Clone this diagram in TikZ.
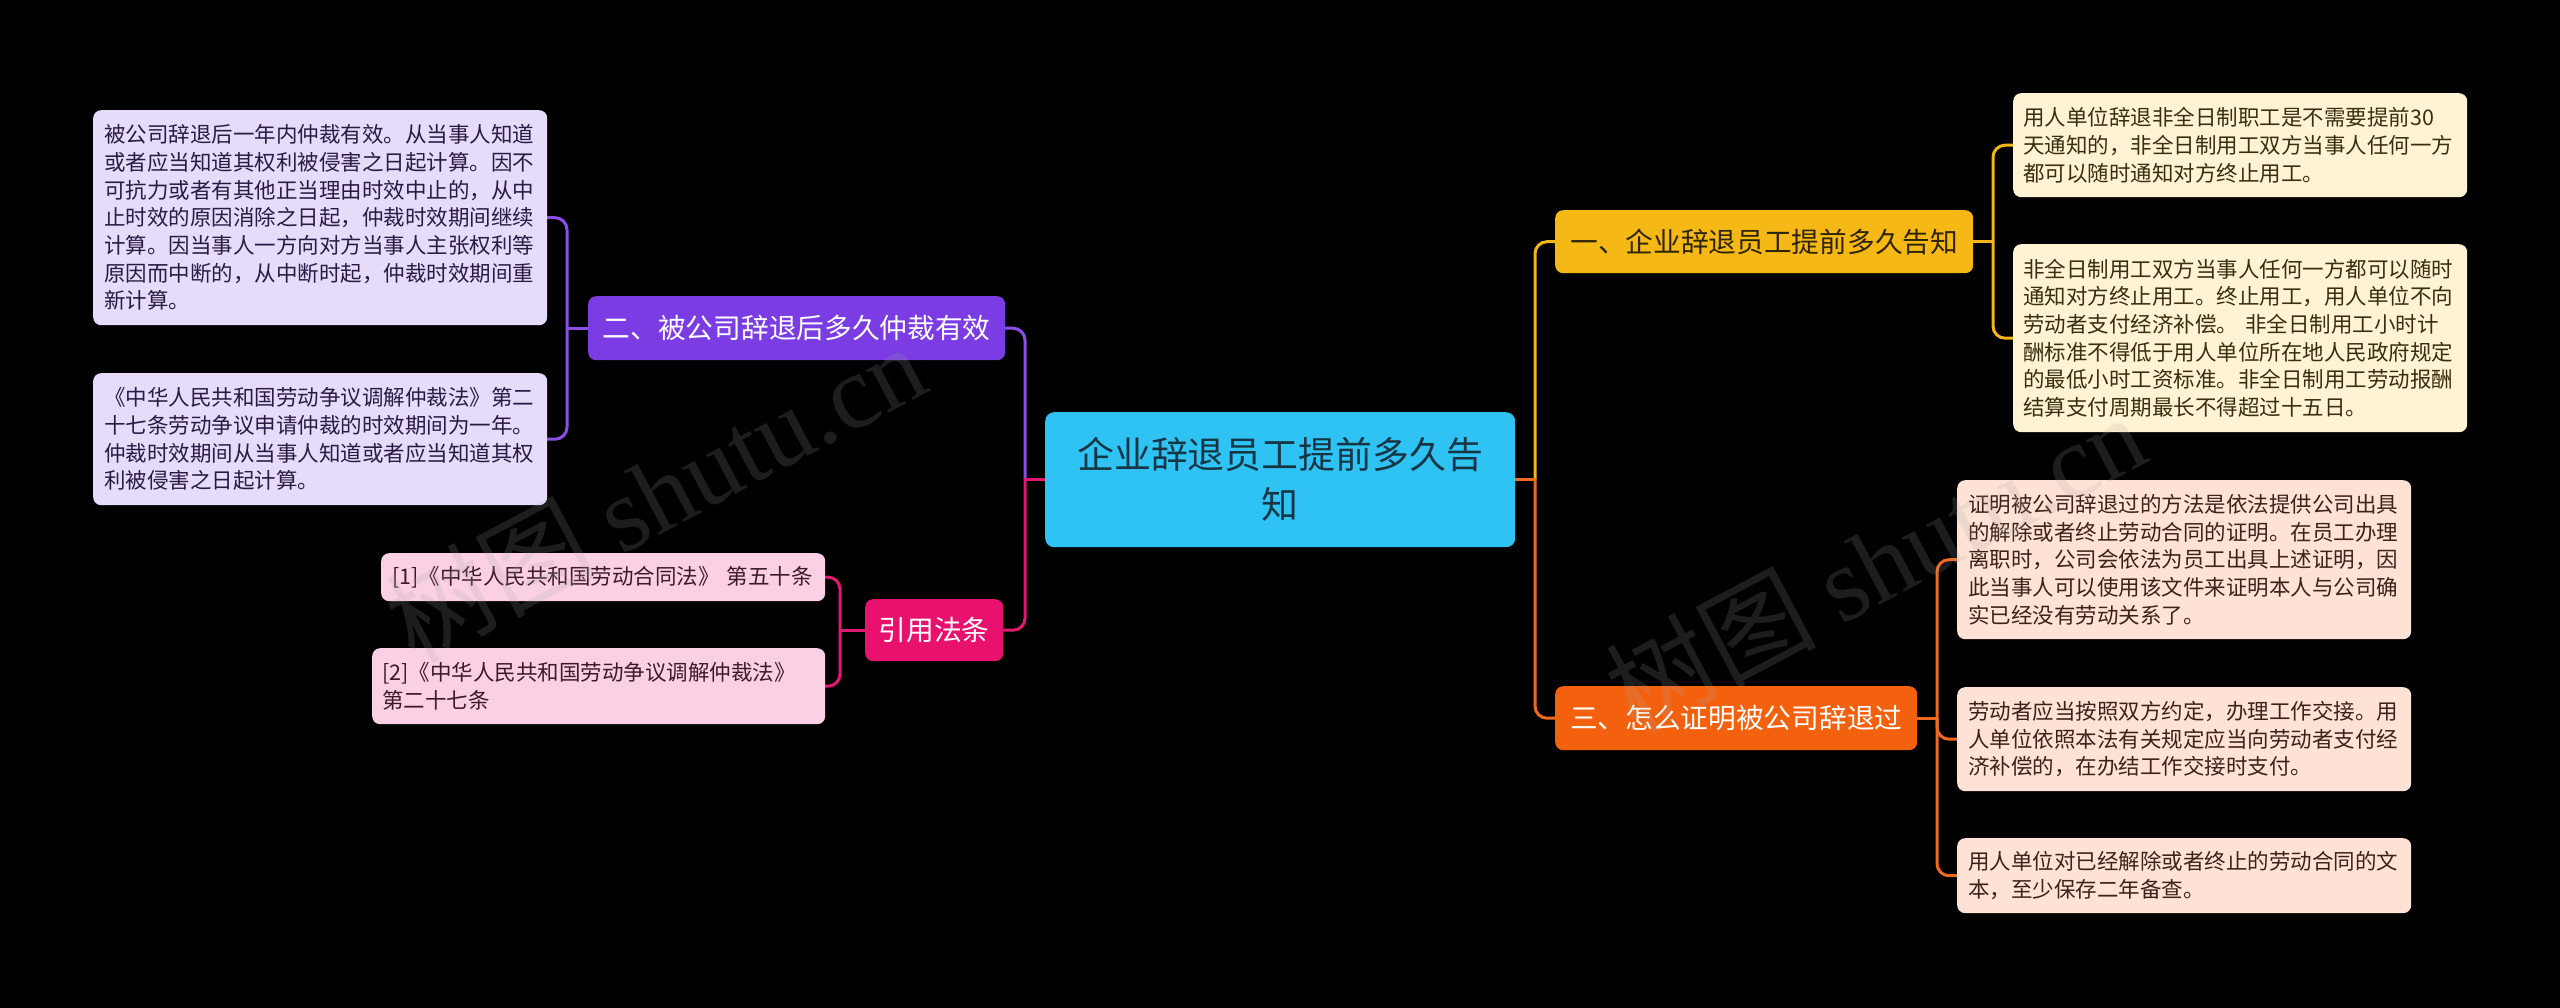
\documentclass[tikz,border=0pt]{standalone}
\usepackage{fontspec}
\setmainfont{Noto Sans CJK SC}
\newfontfamily\wmlatin{Liberation Serif}
\pgfdeclarelayer{background}
\pgfdeclarelayer{foreground}
\pgfsetlayers{background,main,foreground}
\definecolor{bg}{HTML}{000000}
\definecolor{cen}{HTML}{2EC3F3}
\definecolor{centext}{HTML}{173645}
\definecolor{ybr}{HTML}{F5B814}
\definecolor{ybrtext}{HTML}{2E2508}
\definecolor{yleaf}{HTML}{FFF3D4}
\definecolor{ytext}{HTML}{3A2E12}
\definecolor{obr}{HTML}{F4610E}
\definecolor{oleaf}{HTML}{FDE2D5}
\definecolor{otext}{HTML}{3C2217}
\definecolor{pbr}{HTML}{7B3DE3}
\definecolor{pleaf}{HTML}{E6DBF9}
\definecolor{ptext}{HTML}{2A1B44}
\definecolor{kbr}{HTML}{E8126E}
\definecolor{kleaf}{HTML}{FBD0E4}
\definecolor{ktext}{HTML}{3D1A2A}
\definecolor{ylink}{HTML}{F2B51A}
\definecolor{olink}{HTML}{EE6A22}
\definecolor{plink}{HTML}{8B4FE8}
\definecolor{klink}{HTML}{E0196F}
\begin{document}
\begin{tikzpicture}[x=1pt,y=-1pt,
  leaf/.style={rounded corners=8pt, anchor=north west, align=left, inner xsep=11pt, inner ysep=0pt,
    font=\fontsize{21.5pt}{27.7pt}\selectfont},
  branch/.style={rounded corners=8pt, anchor=north west, align=center, inner sep=0pt,
    font=\fontsize{27.7pt}{34pt}\selectfont},
  link/.style={line width=3pt, line cap=round},
  curvelink/.style={link, rounded corners=12pt},
  wm/.style={rotate=28, text=gray!70, opacity=0.18, inner sep=0pt,
    font=\fontsize{105pt}{120pt}\selectfont}
]
\useasboundingbox (0,0) rectangle (2560,1008);
\begin{pgfonlayer}{background}
\fill[bg] (0,0) rectangle (2560,1008);
\end{pgfonlayer}

% central
\node[rounded corners=9pt, anchor=north west, fill=cen, text=centext, align=center, inner sep=0pt,
  text width=470pt, minimum height=135pt, font=\fontsize{36.9pt}{50pt}\selectfont]
  (C) at (1045,412) {企业辞退员工提前多久告\\知};

% branches
\node[branch, fill=ybr, text=ybrtext, minimum width=418pt, minimum height=63pt] (B1) at (1555,210) {一、企业辞退员工提前多久告知};
\node[branch, fill=obr, text=white, minimum width=362pt, minimum height=64pt] (B3) at (1555,686) {三、怎么证明被公司辞退过};
\node[branch, fill=pbr, text=white, minimum width=417pt, minimum height=64pt] (B2) at (588,296) {二、被公司辞退后多久仲裁有效};
\node[branch, fill=kbr, text=white, minimum width=138pt, minimum height=62pt] (B4) at (865,599) {引用法条};

% leaves of B2
\node[leaf, fill=pleaf, text=ptext, text width=432pt, minimum height=215pt] (P1) at (93,110)
{被公司辞退后一年内仲裁有效。从当事人知道\\或者应当知道其权利被侵害之日起计算。因不\\可抗力或者有其他正当理由时效中止的，从中\\止时效的原因消除之日起，仲裁时效期间继续\\计算。因当事人一方向对方当事人主张权利等\\原因而中断的，从中断时起，仲裁时效期间重\\新计算。};
\node[leaf, fill=pleaf, text=ptext, text width=432pt, minimum height=132pt] (P2) at (93,373)
{《中华人民共和国劳动争议调解仲裁法》第二\\十七条劳动争议申请仲裁的时效期间为一年。\\仲裁时效期间从当事人知道或者应当知道其权\\利被侵害之日起计算。};

% leaves of B4
\node[leaf, fill=kleaf, text=ktext, text width=422pt, minimum height=48pt] (K1) at (381,553)
{\mbox{[1]《中华人民共和国劳动合同法》 第五十条}};
\node[leaf, inner xsep=10pt, fill=kleaf, text=ktext, text width=433pt, minimum height=76pt] (K2) at (372,648)
{[2]《中华人民共和国劳动争议调解仲裁法》\\第二十七条};

% leaves of B1
\node[leaf, inner xsep=10pt, fill=yleaf, text=ytext, text width=434pt, minimum height=104pt] (Y1) at (2013,93)
{用人单位辞退非全日制职工是不需要提前30\\天通知的，非全日制用工双方当事人任何一方\\都可以随时通知对方终止用工。};
\node[leaf, inner xsep=10pt, fill=yleaf, text=ytext, text width=434pt, minimum height=188pt] (Y2) at (2013,244)
{非全日制用工双方当事人任何一方都可以随时\\通知对方终止用工。终止用工，用人单位不向\\劳动者支付经济补偿。 非全日制用工小时计\\酬标准不得低于用人单位所在地人民政府规定\\的最低小时工资标准。非全日制用工劳动报酬\\结算支付周期最长不得超过十五日。};

% leaves of B3
\node[leaf, fill=oleaf, text=otext, text width=432pt, minimum height=159pt] (O1) at (1957,480)
{证明被公司辞退过的方法是依法提供公司出具\\的解除或者终止劳动合同的证明。在员工办理\\离职时，公司会依法为员工出具上述证明，因\\此当事人可以使用该文件来证明本人与公司确\\实已经没有劳动关系了。};
\node[leaf, fill=oleaf, text=otext, text width=432pt, minimum height=104pt] (O2) at (1957,687)
{劳动者应当按照双方约定，办理工作交接。用\\人单位依照本法有关规定应当向劳动者支付经\\济补偿的，在办结工作交接时支付。};
\node[leaf, fill=oleaf, text=otext, text width=432pt, minimum height=75pt] (O3) at (1957,838)
{用人单位对已经解除或者终止的劳动合同的文\\本，至少保存二年备查。};

% trunk coordinates
\coordinate (tR) at (1535,0);
\coordinate (tL) at (1025,0);
\coordinate (tY) at (1993,0);
\coordinate (tO) at (1937,0);
\coordinate (tP) at (567,0);
\coordinate (tK) at (840,0);

\begin{pgfonlayer}{background}
  % main right
  \draw[curvelink, ylink] (C.east -| tR) -- (B1.west -| tR) -- (B1.west);
  \draw[curvelink, olink] (C.east -| tR) -- (B3.west -| tR) -- (B3.west);
  \draw[link, olink] (C.east) -- (C.east -| tR);
  % main left
  \draw[curvelink, plink] (C.west -| tL) -- (B2.east -| tL) -- (B2.east);
  \draw[curvelink, klink] (C.west -| tL) -- (B4.east -| tL) -- (B4.east);
  \draw[link, klink] (C.west) -- (C.west -| tL);
  % B1 leaves
  \draw[link, ylink] (B1.east) -- (B1.east -| tY);
  \draw[curvelink, ylink] (B1.east -| tY) -- (Y1.west -| tY) -- (Y1.west);
  \draw[curvelink, ylink] (B1.east -| tY) -- (Y2.west -| tY) -- (Y2.west);
  % B3 leaves
  \draw[link, olink] (B3.east) -- (B3.east -| tO);
  \draw[curvelink, olink] (B3.east -| tO) -- (O1.west -| tO) -- (O1.west);
  \draw[curvelink, olink] (B3.east -| tO) -- (O2.west -| tO) -- (O2.west);
  \draw[curvelink, olink] (B3.east -| tO) -- (O3.west -| tO) -- (O3.west);
  % B2 leaves
  \draw[link, plink] (B2.west) -- (B2.west -| tP);
  \draw[curvelink, plink] (B2.west -| tP) -- (P1.east -| tP) -- (P1.east);
  \draw[curvelink, plink] (B2.west -| tP) -- (P2.east -| tP) -- (P2.east);
  % B4 leaves
  \draw[link, klink] (B4.west) -- (B4.west -| tK);
  \draw[curvelink, klink] (B4.west -| tK) -- (K1.east -| tK) -- (K1.east);
  \draw[curvelink, klink] (B4.west -| tK) -- (K2.east -| tK) -- (K2.east);
\end{pgfonlayer}

\begin{pgfonlayer}{foreground}
  \node[wm] (W1) at (655,492) {树图 {\wmlatin shutu.cn}};
  \node[wm] (W2) at (1875,562) {树图 {\wmlatin shutu.cn}};
\end{pgfonlayer}
\end{tikzpicture}
\end{document}
